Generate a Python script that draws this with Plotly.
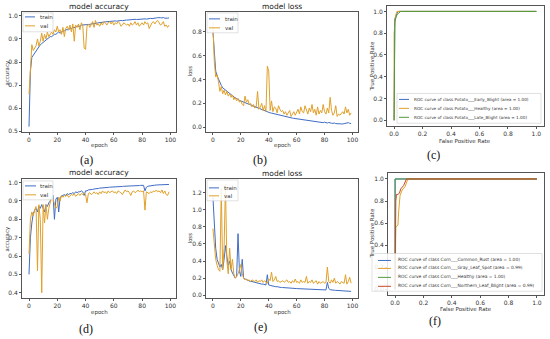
import plotly.graph_objects as go

W, H = 550, 339

epochs = list(range(100))

# (a) potato accuracy
acc_potato_train = [
    0.52, 0.76, 0.82, 0.83, 0.835, 0.845, 0.86, 0.87, 0.875, 0.88,
    0.885, 0.89, 0.895, 0.90, 0.905, 0.91, 0.91, 0.915, 0.92, 0.92,
    0.925, 0.93, 0.925, 0.93, 0.935, 0.935, 0.94, 0.94, 0.94, 0.945,
    0.945, 0.95, 0.95, 0.95, 0.955, 0.955, 0.955, 0.96, 0.96, 0.96,
    0.96, 0.962, 0.963, 0.963, 0.965, 0.965, 0.967, 0.968, 0.968, 0.97,
    0.97, 0.972, 0.972, 0.973, 0.974, 0.975, 0.975, 0.976, 0.976, 0.977,
    0.977, 0.978, 0.977, 0.979, 0.98, 0.98, 0.979, 0.981, 0.98, 0.982,
    0.982, 0.983, 0.982, 0.984, 0.983, 0.985, 0.984, 0.985, 0.983, 0.986,
    0.985, 0.986, 0.987, 0.986, 0.988, 0.988, 0.989, 0.988, 0.99, 0.99,
    0.991, 0.992, 0.993, 0.992, 0.991, 0.993, 0.99, 0.989, 0.99, 0.991]
acc_potato_val = [
    0.66, 0.80, 0.875, 0.85, 0.86, 0.87, 0.90, 0.87, 0.89, 0.925,
    0.89, 0.92, 0.90, 0.93, 0.91, 0.92, 0.93, 0.92, 0.94, 0.93,
    0.955, 0.93, 0.94, 0.92, 0.95, 0.91, 0.945, 0.955, 0.94, 0.96,
    0.93, 0.965, 0.89, 0.96, 0.95, 0.965, 0.94, 0.97, 0.96, 0.86,
    0.855, 0.955, 0.965, 0.95, 0.96, 0.975, 0.95, 0.98, 0.96, 0.965,
    0.955, 0.97, 0.96, 0.975, 0.97, 0.96, 0.97, 0.975, 0.965, 0.975,
    0.96, 0.97, 0.965, 0.975, 0.97, 0.955, 0.96, 0.97, 0.965, 0.96,
    0.965, 0.955, 0.97, 0.96, 0.965, 0.975, 0.96, 0.97, 0.955, 0.965,
    0.97, 0.96, 0.975, 0.965, 0.97, 0.945, 0.96, 0.97, 0.975, 0.965,
    0.975, 0.98, 0.97, 0.96, 0.965, 0.975, 0.955, 0.96, 0.95, 0.96]

# (b) potato loss
loss_potato_train = [
    0.80, 0.62, 0.47, 0.43, 0.40, 0.37, 0.35, 0.33, 0.32, 0.31,
    0.30, 0.29, 0.28, 0.27, 0.26, 0.25, 0.245, 0.24, 0.23, 0.225,
    0.22, 0.215, 0.21, 0.205, 0.20, 0.195, 0.19, 0.185, 0.18, 0.175,
    0.17, 0.165, 0.16, 0.155, 0.15, 0.145, 0.14, 0.138, 0.135, 0.13,
    0.125, 0.12, 0.118, 0.115, 0.11, 0.108, 0.105, 0.10, 0.098, 0.095,
    0.092, 0.09, 0.088, 0.085, 0.083, 0.08, 0.078, 0.076, 0.074, 0.072,
    0.07, 0.068, 0.066, 0.065, 0.063, 0.06, 0.058, 0.057, 0.055, 0.053,
    0.052, 0.05, 0.048, 0.047, 0.045, 0.044, 0.042, 0.04, 0.039, 0.038,
    0.042, 0.036, 0.035, 0.04, 0.034, 0.033, 0.032, 0.035, 0.03, 0.029,
    0.028, 0.026, 0.025, 0.027, 0.03, 0.032, 0.035, 0.038, 0.033, 0.03]
loss_potato_val = [
    0.88, 0.55, 0.42, 0.44, 0.38, 0.30, 0.34, 0.28, 0.31, 0.27,
    0.30, 0.26, 0.28, 0.25, 0.27, 0.23, 0.25, 0.22, 0.24, 0.21,
    0.22, 0.19, 0.18, 0.26, 0.21, 0.23, 0.19, 0.20, 0.17, 0.19,
    0.16, 0.17, 0.30, 0.15, 0.17, 0.20, 0.14, 0.18, 0.13, 0.51,
    0.47, 0.14, 0.22, 0.13, 0.17, 0.16, 0.12, 0.18, 0.15, 0.13,
    0.14, 0.11, 0.13, 0.10, 0.12, 0.14, 0.09, 0.11, 0.13, 0.10,
    0.12, 0.15, 0.11, 0.17, 0.13, 0.12, 0.18, 0.14, 0.11, 0.16,
    0.13, 0.19, 0.12, 0.15, 0.10, 0.17, 0.11, 0.14, 0.12, 0.19,
    0.13, 0.11, 0.16, 0.12, 0.25, 0.14, 0.10, 0.12, 0.18, 0.09,
    0.11, 0.10, 0.12, 0.13, 0.11, 0.17, 0.12, 0.15, 0.10, 0.12]

# (d) corn accuracy
acc_corn_train = [
    0.50, 0.70, 0.78, 0.83, 0.85, 0.86, 0.84, 0.87, 0.86, 0.88,
    0.86, 0.84, 0.88, 0.87, 0.89, 0.90, 0.92, 0.93, 0.80, 0.91,
    0.92, 0.84, 0.92, 0.925, 0.93, 0.935, 0.93, 0.94, 0.935, 0.94,
    0.94, 0.945, 0.94, 0.95, 0.945, 0.95, 0.95, 0.955, 0.95, 0.93,
    0.955, 0.955, 0.96, 0.96, 0.962, 0.963, 0.965, 0.965, 0.967, 0.968,
    0.97, 0.97, 0.971, 0.972, 0.972, 0.973, 0.974, 0.975, 0.975, 0.976,
    0.976, 0.977, 0.977, 0.978, 0.978, 0.979, 0.979, 0.98, 0.98, 0.98,
    0.981, 0.981, 0.982, 0.982, 0.983, 0.983, 0.983, 0.984, 0.984, 0.985,
    0.985, 0.985, 0.955, 0.975, 0.98, 0.982, 0.984, 0.985, 0.986, 0.986,
    0.987, 0.987, 0.988, 0.988, 0.989, 0.99, 0.99, 0.988, 0.989, 0.99]
acc_corn_val = [
    0.61, 0.80, 0.84, 0.82, 0.85, 0.87, 0.52, 0.88, 0.80, 0.40,
    0.88, 0.78, 0.88, 0.80, 0.86, 0.90, 0.92, 0.91, 0.88, 0.86,
    0.87, 0.92, 0.90, 0.93, 0.92, 0.93, 0.925, 0.935, 0.92, 0.93,
    0.935, 0.93, 0.94, 0.925, 0.935, 0.94, 0.93, 0.94, 0.935, 0.945,
    0.935, 0.89, 0.94, 0.945, 0.935, 0.94, 0.95, 0.94, 0.945, 0.935,
    0.95, 0.94, 0.955, 0.945, 0.95, 0.94, 0.955, 0.945, 0.95, 0.955,
    0.945, 0.95, 0.94, 0.955, 0.95, 0.945, 0.935, 0.95, 0.96, 0.95,
    0.955, 0.945, 0.93, 0.95, 0.955, 0.945, 0.95, 0.96, 0.95, 0.955,
    0.95, 0.955, 0.85, 0.95, 0.945, 0.94, 0.95, 0.945, 0.955, 0.95,
    0.96, 0.95, 0.955, 0.945, 0.96, 0.94, 0.955, 0.935, 0.93, 0.95]

# (e) corn loss
loss_corn_train = [
    1.15, 0.80, 0.55, 0.42, 0.38, 0.33, 0.36, 0.30, 0.42, 0.58,
    0.45, 0.35, 0.40, 0.30, 0.26, 0.22, 0.20, 0.22, 0.72, 0.28,
    0.22, 0.42, 0.20, 0.19, 0.18, 0.17, 0.165, 0.16, 0.16, 0.155,
    0.15, 0.145, 0.14, 0.14, 0.135, 0.13, 0.13, 0.125, 0.12, 0.24,
    0.12, 0.115, 0.11, 0.11, 0.105, 0.10, 0.10, 0.095, 0.095, 0.09,
    0.09, 0.088, 0.087, 0.085, 0.084, 0.083, 0.082, 0.08, 0.08, 0.079,
    0.078, 0.077, 0.076, 0.075, 0.074, 0.073, 0.072, 0.072, 0.071, 0.07,
    0.07, 0.069, 0.068, 0.067, 0.066, 0.066, 0.065, 0.064, 0.064, 0.063,
    0.062, 0.062, 0.15, 0.08, 0.065, 0.06, 0.059, 0.058, 0.057, 0.056,
    0.055, 0.054, 0.053, 0.052, 0.051, 0.05, 0.05, 0.049, 0.048, 0.045]
loss_corn_val = [
    0.78, 0.55, 0.42, 0.35, 0.30, 0.28, 1.25, 0.30, 0.55, 1.30,
    0.40, 0.25, 0.55, 0.30, 0.42, 0.25, 0.20, 0.22, 0.25, 0.30,
    0.36, 0.25, 0.20, 0.18, 0.19, 0.17, 0.18, 0.16, 0.18, 0.17,
    0.16, 0.18, 0.15, 0.17, 0.16, 0.18, 0.15, 0.17, 0.16, 0.14,
    0.19, 0.17, 0.27, 0.16, 0.18, 0.22, 0.16, 0.17, 0.15, 0.16,
    0.17, 0.15, 0.16, 0.18, 0.15, 0.16, 0.14, 0.17, 0.15, 0.19,
    0.15, 0.16, 0.14, 0.18, 0.15, 0.16, 0.15, 0.22, 0.14, 0.16,
    0.15, 0.18, 0.14, 0.15, 0.17, 0.13, 0.16, 0.14, 0.15, 0.16,
    0.14, 0.15, 0.33, 0.16, 0.14, 0.18, 0.15, 0.20, 0.14, 0.16,
    0.15, 0.13, 0.16, 0.15, 0.14, 0.24, 0.13, 0.16, 0.21, 0.14]

# (c) potato ROC
roc_potato_early_fpr = [0, 0, 0.005, 0.01, 0.015, 0.02, 0.03, 1.0]
roc_potato_early_tpr = [0, 0.88, 0.93, 0.95, 0.97, 0.98, 1.0, 1.0]
roc_potato_healthy_fpr = [0, 0, 0.01, 0.02, 1.0]
roc_potato_healthy_tpr = [0, 0.8, 0.96, 1.0, 1.0]
roc_potato_late_fpr = [0, 0, 0.005, 0.01, 0.02, 0.03, 0.045, 1.0]
roc_potato_late_tpr = [0, 0.8, 0.9, 0.93, 0.97, 0.98, 1.0, 1.0]

# (f) corn ROC
roc_corn_rust_fpr = [0, 0, 1.0]
roc_corn_rust_tpr = [0, 1.0, 1.0]
roc_corn_gray_fpr = [0, 0, 0.005, 0.01, 0.02, 0.025, 0.035, 0.05, 0.07, 0.09, 1.0]
roc_corn_gray_tpr = [0, 0.5, 0.56, 0.57, 0.58, 0.7, 0.85, 0.9, 0.93, 1.0, 1.0]
roc_corn_healthy_fpr = [0, 0, 1.0]
roc_corn_healthy_tpr = [0, 1.0, 1.0]
roc_corn_northern_fpr = [0, 0, 0.005, 0.01, 0.02, 0.03, 0.04, 0.06, 0.08, 1.0]
roc_corn_northern_tpr = [0, 0.72, 0.8, 0.86, 0.86, 0.87, 0.91, 0.94, 1.0, 1.0]

potato_labels = ["ROC curve of class Potato___Early_Blight (area = 1.00)",
                 "ROC curve of class Potato___Healthy (area = 1.00)",
                 "ROC curve of class Potato___Late_Blight (area = 1.00)"]
corn_labels = ["ROC curve of class Corn___Common_Rust (area = 1.00)",
               "ROC curve of class Corn___Gray_Leaf_Spot (area = 0.99)",
               "ROC curve of class Corn___Healthy (area = 1.00)",
               "ROC curve of class Corn___Northern_Leaf_Blight (area = 0.99)"]

BLUE = "#3f6cc4"
ORANGE = "#e0a02a"
GREEN = "#4e9a3a"
RED = "#c8472a"
FONT = "DejaVu Sans"


def fx(p):
    return p / W


def fy(p):
    return 1 - p / H


fig = go.Figure()

# panel boxes in pixels: left, right, top, bottom
panels = [
    dict(box=(22, 176, 12, 133), xr=[-4.95, 103.95], yr=[0.496, 1.017], xd=20, yd=0.1),
    dict(box=(206, 358, 12, 133), xr=[-4.95, 103.95], yr=[-0.042, 0.965], xd=20, yd=0.2),
    dict(box=(387, 543.5, 6, 126.5), xr=[-0.05, 1.05], yr=[-0.05, 1.05], xd=0.2, yd=0.2),
    dict(box=(22, 176, 180, 300), xr=[-4.95, 103.95], yr=[0.37, 1.02], xd=20, yd=0.1),
    dict(box=(206, 358, 180, 300), xr=[-4.95, 103.95], yr=[-0.035, 1.36], xd=20, yd=0.2),
    dict(box=(388, 544, 174.5, 296.5), xr=[-0.05, 1.05], yr=[-0.05, 1.05], xd=0.2, yd=0.2),
]

layout = dict(width=W, height=H, margin=dict(l=0, r=0, t=0, b=0), autosize=False,
              paper_bgcolor="white", plot_bgcolor="white", showlegend=False)

for i, p in enumerate(panels):
    n = "" if i == 0 else str(i + 1)
    l, r, t, b = p["box"]
    common = dict(showline=True, mirror=True, linecolor="#555", linewidth=0.8,
                  ticks="outside", ticklen=2, tickwidth=0.8, tickcolor="#555",
                  showgrid=False, zeroline=False,
                  tickfont=dict(family=FONT, size=6, color="#333"))
    xfmt = ".1f" if p["xd"] < 1 else "d"
    layout["xaxis" + n] = dict(domain=[fx(l), fx(r)], range=p["xr"], anchor="y" + n,
                               tick0=0, dtick=p["xd"], tickformat=xfmt, **common)
    layout["yaxis" + n] = dict(domain=[fy(b), fy(t)], range=p["yr"], anchor="x" + n,
                               tick0=0, dtick=p["yd"], tickformat=".1f", **common)

fig.update_layout(**layout)


def add_line(x, y, color, ax):
    n = "" if ax == 1 else str(ax)
    fig.add_trace(go.Scatter(x=x, y=y, mode="lines", line=dict(color=color, width=1),
                             xaxis="x" + n, yaxis="y" + n, hoverinfo="skip"))


add_line(epochs, acc_potato_train, BLUE, 1)
add_line(epochs, acc_potato_val, ORANGE, 1)
add_line(epochs, loss_potato_train, BLUE, 2)
add_line(epochs, loss_potato_val, ORANGE, 2)
add_line(roc_potato_early_fpr, roc_potato_early_tpr, BLUE, 3)
add_line(roc_potato_healthy_fpr, roc_potato_healthy_tpr, ORANGE, 3)
add_line(roc_potato_late_fpr, roc_potato_late_tpr, GREEN, 3)
add_line(epochs, acc_corn_train, BLUE, 4)
add_line(epochs, acc_corn_val, ORANGE, 4)
add_line(epochs, loss_corn_train, BLUE, 5)
add_line(epochs, loss_corn_val, ORANGE, 5)
add_line(roc_corn_rust_fpr, roc_corn_rust_tpr, BLUE, 6)
add_line(roc_corn_gray_fpr, roc_corn_gray_tpr, ORANGE, 6)
add_line(roc_corn_healthy_fpr, roc_corn_healthy_tpr, GREEN, 6)
add_line(roc_corn_northern_fpr, roc_corn_northern_tpr, RED, 6)

shapes = []
annotations = []


def text(x, y, s, size, color="#333", family=FONT, angle=0, xanchor="center", yanchor="middle"):
    annotations.append(dict(x=fx(x), y=fy(y), xref="paper", yref="paper", text=s,
                            showarrow=False, font=dict(family=family, size=size, color=color),
                            textangle=angle, xanchor=xanchor, yanchor=yanchor))


def legend(box, rows, lx0, lx1, tx, items, size):
    l, r, t, b = box
    shapes.append(dict(type="rect", xref="paper", yref="paper", x0=fx(l), x1=fx(r),
                       y0=fy(b), y1=fy(t), fillcolor="rgba(255,255,255,0.85)",
                       line=dict(color="#cccccc", width=0.6), layer="above"))
    for yy, (c, s) in zip(rows, items):
        shapes.append(dict(type="line", xref="paper", yref="paper", x0=fx(lx0), x1=fx(lx1),
                           y0=fy(yy), y1=fy(yy), line=dict(color=c, width=1), layer="above"))
        text(tx, yy, s, size, xanchor="left")


# titles and axis labels
text(99, 7, "model accuracy", 7.5, "#222")
text(282, 7, "model loss", 7.5, "#222")
text(99, 174, "model accuracy", 7.5, "#222")
text(282, 175, "model loss", 7.5, "#222")
text(99, 146, "epoch", 5.5)
text(282, 146, "epoch", 5.5)
text(99, 314, "epoch", 5.5)
text(282, 314, "epoch", 5.5)
text(465, 141.5, "False Positive Rate", 5.5)
text(466, 310.5, "False Positive Rate", 5.5)
text(8, 73, "accuracy", 5.5, angle=-90)
text(8, 240, "accuracy", 5.5, angle=-90)
text(190, 72, "loss", 5.5, angle=-90)
text(190, 240, "loss", 5.5, angle=-90)
text(372, 67, "True Positive Rate", 5.5, angle=-90)
text(372, 235, "True Positive Rate", 5.5, angle=-90)

# panel letters
for s, x, y in [("(a)", 86, 161), ("(b)", 260, 161), ("(c)", 433, 156),
                ("(d)", 86, 331), ("(e)", 260, 329), ("(f)", 435, 323)]:
    text(x, y, s, 12, "#111", family="Liberation Serif")

# legends
legend((23, 53, 13, 32), [17, 26], 25, 35, 38, [(BLUE, "train"), (ORANGE, "val")], 5.5)
legend((207, 238, 13, 33), [19, 28], 209, 220, 223, [(BLUE, "train"), (ORANGE, "val")], 5.5)
legend((23, 53, 182, 201), [187, 196], 25, 36, 38, [(BLUE, "train"), (ORANGE, "val")], 5.5)
legend((207, 238, 181, 202), [189, 197], 209, 219, 222, [(BLUE, "train"), (ORANGE, "val")], 5.5)
legend((397, 541, 94, 124), [100, 109, 118], 399, 409, 412,
       list(zip([BLUE, ORANGE, GREEN], potato_labels)), 4.2)
legend((372, 542, 255, 293), [262, 270, 279, 288], 378, 391, 396,
       list(zip([BLUE, ORANGE, GREEN, RED], corn_labels)), 4.4)

fig.update_layout(shapes=shapes, annotations=annotations)
fig.write_html("out.html", config={"displayModeBar": False},
               post_script="document.body.style.margin='0px';")
